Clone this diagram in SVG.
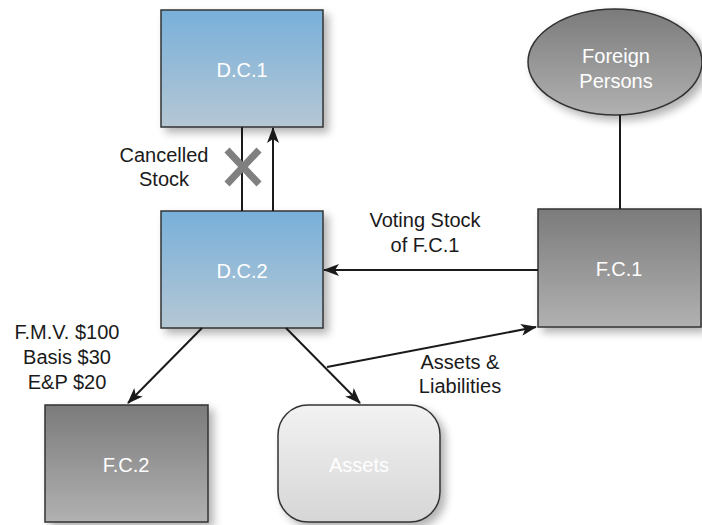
<svg xmlns="http://www.w3.org/2000/svg" width="702" height="525" viewBox="0 0 702 525">
<style>
text{font-family:"Liberation Sans",Arial,sans-serif;font-size:20px;text-anchor:middle}
.lbl{fill:#1a1a1a}
.nt{fill:#ffffff}
.box{stroke:#333333;stroke-width:1.5}
.ln{stroke:#1a1a1a;stroke-width:2;fill:none}
</style>
<defs>
<linearGradient id="gBlue" x1="0" y1="0" x2="0" y2="1">
<stop offset="0" stop-color="#78b0da"/>
<stop offset="1" stop-color="#b5c7d4"/>
</linearGradient>
<linearGradient id="gGray" x1="0" y1="0" x2="0" y2="1">
<stop offset="0" stop-color="#7b7b7b"/>
<stop offset="1" stop-color="#b1b1b1"/>
</linearGradient>
<linearGradient id="gLight" x1="0" y1="0" x2="0" y2="1">
<stop offset="0" stop-color="#f2f2f2"/>
<stop offset="1" stop-color="#d6d6d6"/>
</linearGradient>
<filter id="sh" x="-20%" y="-20%" width="150%" height="150%">
<feGaussianBlur in="SourceAlpha" stdDeviation="4"/>
<feOffset dx="5" dy="5" result="b"/>
<feComponentTransfer><feFuncA type="linear" slope="0.3"/></feComponentTransfer>
<feMerge><feMergeNode/><feMergeNode in="SourceGraphic"/></feMerge>
</filter>
<marker id="ah" viewBox="0 0 16 12" refX="15" refY="6" markerWidth="16" markerHeight="12" markerUnits="userSpaceOnUse" orient="auto">
<path d="M0,0 L16,6 L0,12 L4,6 Z" fill="#1a1a1a"/>
</marker>
</defs>

<g id="DC1">
<rect class="box" x="161" y="10" width="162" height="117" fill="url(#gBlue)" filter="url(#sh)"/>
<text class="nt" x="242" y="77">D.C.1</text>
</g>
<g id="DC2">
<rect class="box" x="161" y="211" width="162" height="117" fill="url(#gBlue)" filter="url(#sh)"/>
<text class="nt" x="242" y="278">D.C.2</text>
</g>
<g id="FP">
<ellipse class="box" cx="615" cy="62" rx="87" ry="53" fill="url(#gGray)" filter="url(#sh)"/>
<text class="nt" x="616" y="63">Foreign</text>
<text class="nt" x="616" y="88">Persons</text>
</g>
<g id="FC1">
<rect class="box" x="538" y="209" width="163" height="118" fill="url(#gGray)" filter="url(#sh)"/>
<text class="nt" x="619" y="276">F.C.1</text>
</g>
<g id="FC2">
<rect class="box" x="45" y="405" width="163" height="117" fill="url(#gGray)" filter="url(#sh)"/>
<text class="nt" x="126" y="472">F.C.2</text>
</g>
<g id="Assets">
<rect class="box" x="278" y="405" width="162" height="117" rx="30" ry="30" fill="url(#gLight)" filter="url(#sh)"/>
<text class="nt" x="359" y="472">Assets</text>
</g>

<g id="connectors">
<line class="ln" x1="242" y1="127" x2="242" y2="211"/>
<line class="ln" x1="273" y1="211" x2="273" y2="128" marker-end="url(#ah)"/>
<line class="ln" x1="620" y1="115" x2="620" y2="209"/>
<line class="ln" x1="538" y1="270" x2="324" y2="270" marker-end="url(#ah)"/>
<line class="ln" x1="202" y1="328" x2="128" y2="403" marker-end="url(#ah)"/>
<line class="ln" x1="286" y1="328" x2="360" y2="403" marker-end="url(#ah)"/>
<line class="ln" x1="327" y1="367" x2="536" y2="327" marker-end="url(#ah)"/>
<g id="cancel" stroke="#808080" stroke-width="7">
<line x1="227" y1="150" x2="259" y2="184"/>
<line x1="259" y1="150" x2="227" y2="184"/>
</g>
</g>

<g id="labels">
<text class="lbl" x="164" y="162">Cancelled</text>
<text class="lbl" x="164" y="186">Stock</text>
<text class="lbl" x="425" y="227">Voting Stock</text>
<text class="lbl" x="425" y="252">of F.C.1</text>
<text class="lbl" x="67" y="339">F.M.V. $100</text>
<text class="lbl" x="67" y="364">Basis $30</text>
<text class="lbl" x="67" y="389">E&amp;P $20</text>
<text class="lbl" x="460" y="369">Assets &amp;</text>
<text class="lbl" x="460" y="393">Liabilities</text>
</g>
</svg>
